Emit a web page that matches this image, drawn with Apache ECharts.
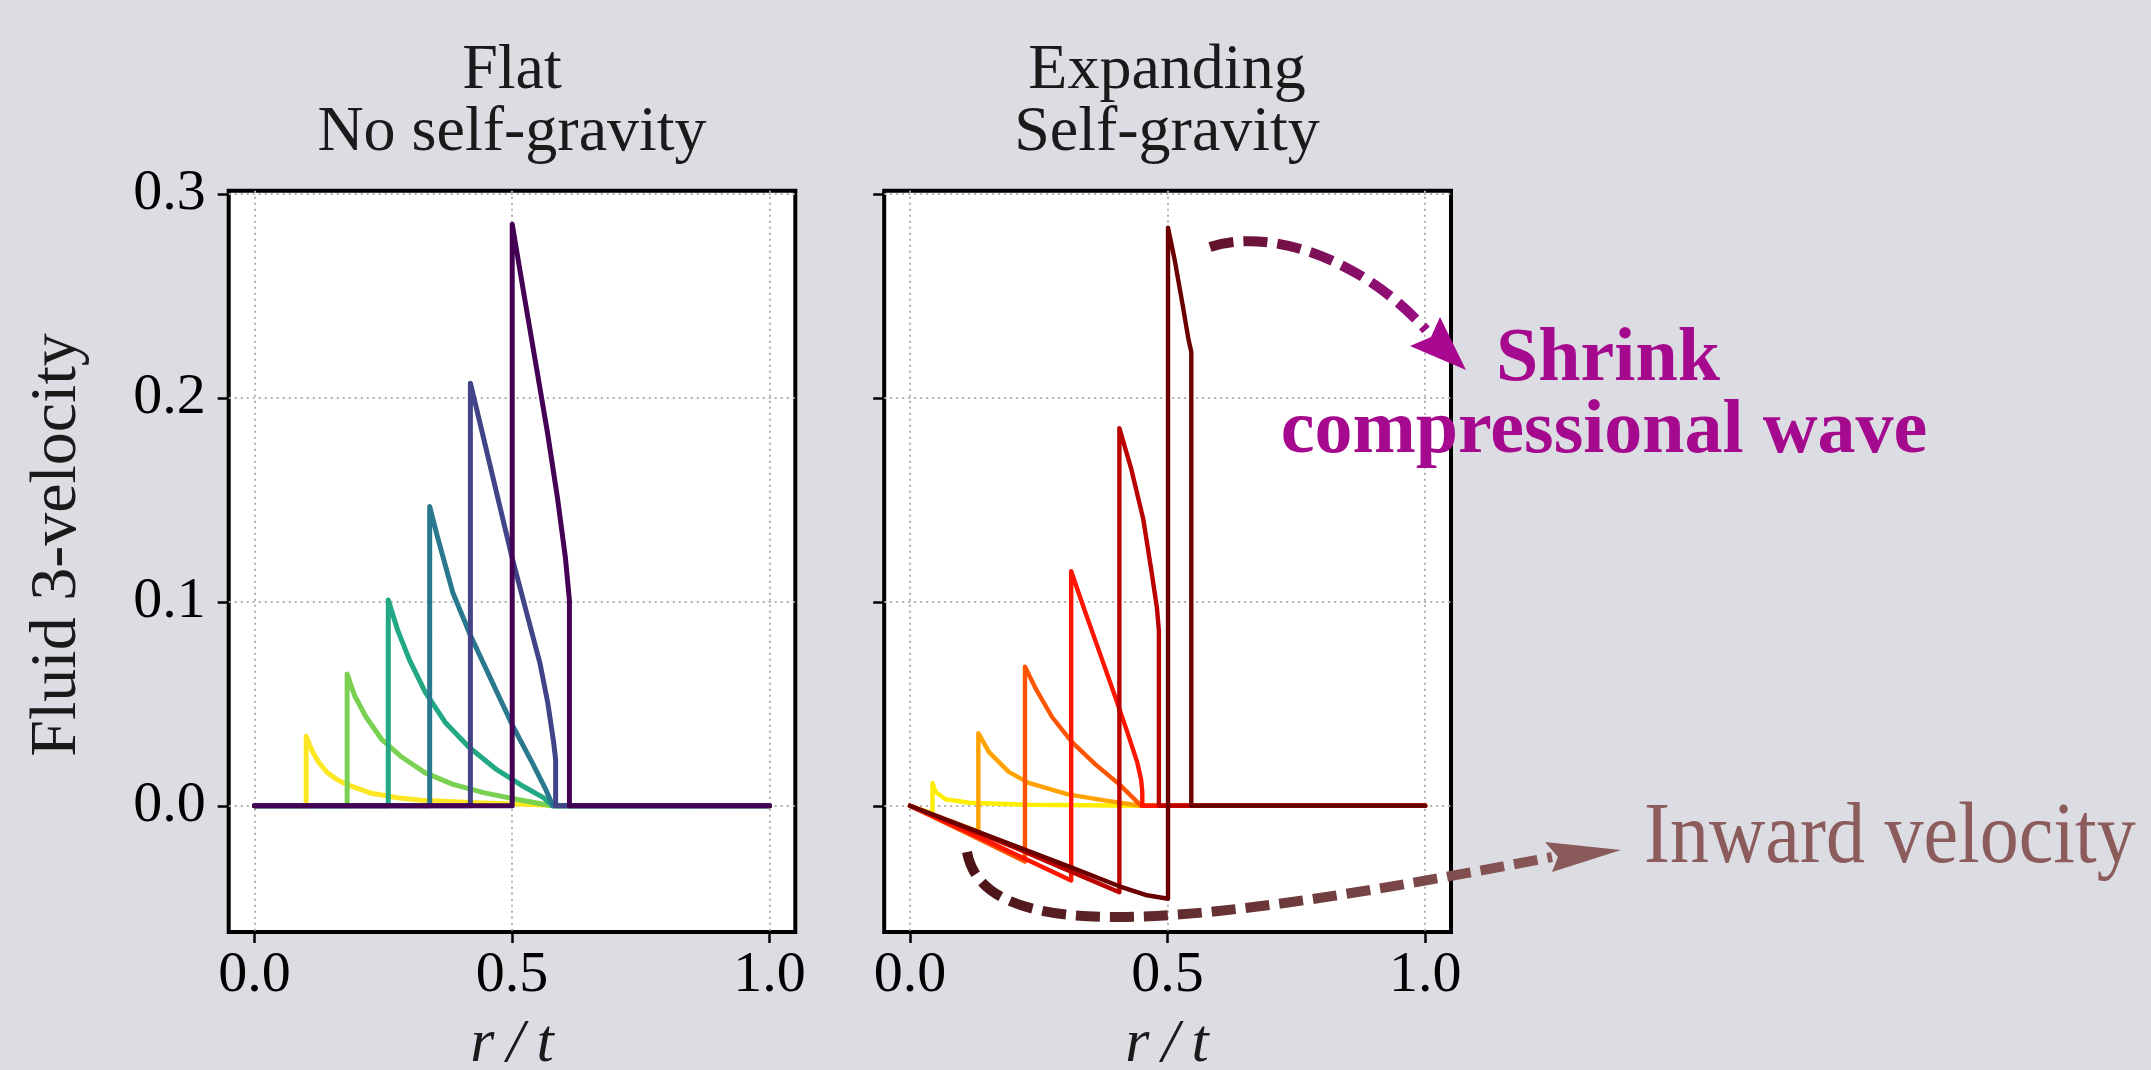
<!DOCTYPE html>
<html>
<head>
<meta charset="utf-8">
<script src="https://cdn.jsdelivr.net/npm/echarts@6/dist/echarts.min.js"></script>
<style>
html,body{margin:0;padding:0;background:#dcdce3;}
#chart{width:2151px;height:1070px;}
</style>
</head>
<body>
<div id="chart"></div>
<script>
// ---------- DATA ----------
const xTicks = [0, 0.5, 1.0];
const yTicks = [0, 0.1, 0.2, 0.3];

// Left panel: Flat, no self-gravity (viridis, early -> late)
const flat1 = [[0,0],[0.1004,0],[0.1004,0.0341],[0.107,0.0298],[0.1134,0.0263],[0.125,0.0212],[0.1402,0.0166],[0.1585,0.0131],[0.1785,0.0105],[0.2245,0.0063],[0.278,0.0039],[0.324,0.0027],[0.431,0.0015],[0.577,0.0002],[1.0,0]];
const flat2 = [[0,0],[0.180,0],[0.180,0.0646],[0.1939,0.0543],[0.2169,0.0434],[0.2475,0.0324],[0.2858,0.0239],[0.3318,0.0161],[0.3854,0.0105],[0.4467,0.0063],[0.508,0.0032],[0.577,0],[1.0,0]];
const flat3 = [[0,0],[0.2598,0],[0.2598,0.1009],[0.2782,0.0860],[0.3011,0.0714],[0.3318,0.0556],[0.3701,0.0410],[0.4161,0.0288],[0.4697,0.0178],[0.5234,0.0093],[0.5617,0.0039],[0.5785,0],[1.0,0]];
const flat4 = [[0,0],[0.3402,0],[0.3402,0.1467],[0.3548,0.1323],[0.3854,0.1043],[0.4192,0.0836],[0.4621,0.0604],[0.5004,0.0397],[0.5387,0.0214],[0.5655,0.0080],[0.5793,0],[1.0,0]];
const flat5 = [[0,0],[0.4192,0],[0.4192,0.2072],[0.4314,0.1945],[0.4544,0.1701],[0.4774,0.1457],[0.5004,0.1214],[0.531,0.0921],[0.554,0.0702],[0.5693,0.0507],[0.5808,0.0312],[0.5847,0.0227],[0.5847,0],[1.0,0]];
const flat6 = [[0,0],[0.5004,0],[0.5004,0.2852],[0.5234,0.2505],[0.5464,0.2164],[0.5693,0.1823],[0.5885,0.1506],[0.6038,0.1214],[0.6115,0.1007],[0.6115,0],[1.0,0]];

// Right panel: Expanding, self-gravity (hot, early -> late)
const exp1 = [[0,0],[0.0437,-0.0037],[0.0437,0.0112],[0.0498,0.0068],[0.069,0.0032],[0.115,0.0015],[0.23,0.0005],[0.4486,0],[1.0,0]];
const exp2 = [[0,0],[0.1327,-0.0127],[0.1327,0.0356],[0.1534,0.0263],[0.1917,0.0166],[0.2301,0.0112],[0.3067,0.0056],[0.3834,0.0024],[0.4486,0],[1.0,0]];
const exp3 = [[0,0],[0.1120,-0.0136],[0.2232,-0.0273],[0.2232,0.0682],[0.2454,0.0568],[0.2761,0.0434],[0.3144,0.0312],[0.3604,0.0202],[0.4064,0.0105],[0.4486,0],[1.0,0]];
const exp4 = [[0,0],[0.1560,-0.0180],[0.3129,-0.0366],[0.3129,0.1150],[0.3374,0.0970],[0.3681,0.0751],[0.3988,0.0531],[0.4218,0.0361],[0.4410,0.0214],[0.4486,0.0129],[0.4509,0.0068],[0.4509,0],[1.0,0]];
const exp5 = [[0,0],[0.2030,-0.0205],[0.3129,-0.0323],[0.4064,-0.0424],[0.4064,0.1852],[0.4294,0.1652],[0.4525,0.1409],[0.4678,0.1165],[0.4793,0.0970],[0.4831,0.0860],[0.4831,0],[1.0,0]];
const exp6 = [[0,0],[0.3129,-0.0302],[0.4064,-0.0395],[0.4601,-0.0439],[0.5008,-0.0456],[0.5008,0.2835],[0.5138,0.2676],[0.5291,0.2457],[0.5406,0.2286],[0.546,0.2225],[0.546,0],[1.0,0]];

const flatSeriesData = [flat1, flat2, flat3, flat4, flat5, flat6];
const expSeriesData = [exp1, exp2, exp3, exp4, exp5, exp6];

// ---------- STYLE ----------
const flatColors = ['#fde725','#7ad151','#22a884','#2a788e','#414487','#440154'];
const expColors = ['#ffee00','#ffa200','#ff5500','#ff1500','#bb0000','#6a0000'];
const SERIF = '"Liberation Serif", "DejaVu Serif", serif';

const chart = echarts.init(document.getElementById('chart'));

function mkX(gi){
  return {
    type:'value', gridIndex:gi, min:-0.05, max:1.05,
    axisLine:{show:false, onZero:false},
    axisTick:{show:true, inside:false, length:11, customValues:xTicks, lineStyle:{color:'#000', width:2.5}},
    axisLabel:{show:true, customValues:xTicks, margin:15, formatter:v=>Number(v).toFixed(1),
      fontFamily:SERIF, fontSize:58, lineHeight:58, color:'#000'},
    splitLine:{show:true, lineStyle:{color:'#b0b0b0', width:2, type:[2,4]}}
  };
}
function mkY(gi, showLabels){
  return {
    type:'value', gridIndex:gi, min:-0.0619, max:0.3016,
    axisLine:{show:false, onZero:false},
    axisTick:{show:true, inside:false, length:11, customValues:yTicks, lineStyle:{color:'#000', width:2.5}},
    axisLabel:{show:showLabels, customValues:yTicks, margin:23, formatter:v=>Number(v).toFixed(1),
      fontFamily:SERIF, fontSize:58, lineHeight:58, color:'#000'},
    splitLine:{show:true, lineStyle:{color:'#b0b0b0', width:2, type:[2,4]}}
  };
}
function mkSeries(data, color, idx, width){
  return {
    type:'line', xAxisIndex:idx, yAxisIndex:idx, data:data,
    showSymbol:false, symbol:'none', silent:true, animation:false, clip:true,
    lineStyle:{color:color, width:width, join:'round', cap:'round'},
    itemStyle:{color:color},
    emphasis:{disabled:true}
  };
}

const series = [];
flatSeriesData.forEach((d,i)=>series.push(mkSeries(d, flatColors[i], 0, 5)));
expSeriesData.forEach((d,i)=>series.push(mkSeries(d, expColors[i], 1, 4.4)));

const G = echarts.graphic;
const option = {
  backgroundColor:'#dcdce3',
  animation:false,
  title:[
    {text:'Flat\nNo self-gravity', left:512, top:40, textAlign:'center', padding:0,
     textStyle:{fontFamily:SERIF, fontSize:64, fontWeight:'normal', color:'#1a1a1a', lineHeight:62}},
    {text:'Expanding\nSelf-gravity', left:1167, top:40, textAlign:'center', padding:0,
     textStyle:{fontFamily:SERIF, fontSize:64, fontWeight:'normal', color:'#1a1a1a', lineHeight:62}}
  ],
  grid:[
    {left:228.7, top:190.7, width:566.6, height:741.3, show:true, backgroundColor:'#ffffff', borderColor:'#000', borderWidth:4, containLabel:false},
    {left:884.2, top:190.7, width:566.8, height:741.3, show:true, backgroundColor:'#ffffff', borderColor:'#000', borderWidth:4, containLabel:false}
  ],
  xAxis:[mkX(0), mkX(1)],
  yAxis:[mkY(0,true), mkY(1,false)],
  series:series,
  graphic:[
    // axis titles
    {type:'text', x:58, y:545, rotation:Math.PI/2, z:100,
     style:{text:'Fluid 3-velocity', fontFamily:SERIF, fontSize:66, fill:'#1a1a1a', align:'center', verticalAlign:'middle', textAlign:'center', textVerticalAlign:'middle'}},
    {type:'text', x:512, y:1045, z:100,
     style:{text:'r\u2009/\u2009t', fontFamily:SERIF, fontStyle:'italic', fontSize:62, fill:'#1a1a1a', align:'center', verticalAlign:'middle', textAlign:'center', textVerticalAlign:'middle'}},
    {type:'text', x:1167, y:1045, z:100,
     style:{text:'r\u2009/\u2009t', fontFamily:SERIF, fontStyle:'italic', fontSize:62, fill:'#1a1a1a', align:'center', verticalAlign:'middle', textAlign:'center', textVerticalAlign:'middle'}},
    // upper arrow
    {type:'bezierCurve', z:100,
     shape:{x1:1210,y1:247,cpx1:1275,cpy1:226,cpx2:1368,cpy2:264,x2:1426,y2:330},
     style:{fill:null, lineWidth:10, lineDash:[24,10],
       stroke:new G.LinearGradient(1210,0,1426,0,[{offset:0,color:'#611428'},{offset:1,color:'#9a0c84'}],true)}},
    {type:'polygon', z:101,
     shape:{points:[[1466,370],[1410,346],[1431,337],[1440,317]]},
     style:{fill:'#a8088f'}},
    // lower arrow
    {type:'bezierCurve', z:100,
     shape:{x1:967,y1:852,cpx1:985,cpy1:950,cpx2:1200,cpy2:925,x2:1552,y2:857},
     style:{fill:null, lineWidth:10, lineDash:[24,10],
       stroke:new G.LinearGradient(967,0,1552,0,[{offset:0,color:'#4d1418'},{offset:1,color:'#8a5858'}],true)}},
    {type:'polygon', z:101,
     shape:{points:[[1621,850],[1545,842],[1558,857],[1552,872]]},
     style:{fill:'#8a5a5a'}},
    // annotation texts
    {type:'text', x:1608, y:360, z:102,
     style:{text:'Shrink', fontFamily:SERIF, fontWeight:'bold', fontSize:76, fill:'#a50a8e', align:'center', verticalAlign:'middle', textAlign:'center', textVerticalAlign:'middle'}},
    {type:'text', x:1604, y:432, z:102,
     style:{text:'compressional wave', fontFamily:SERIF, fontWeight:'bold', fontSize:76, fill:'#a50a8e', align:'center', verticalAlign:'middle', textAlign:'center', textVerticalAlign:'middle'}},
    {type:'text', x:1644, y:839, z:102, scaleY:1.1,
     style:{text:'Inward velocity', fontFamily:SERIF, fontSize:78, fill:'#8c5c5c', align:'left', verticalAlign:'middle', textAlign:'left', textVerticalAlign:'middle'}}
  ]
};
chart.setOption(option);
</script>
</body>
</html>
